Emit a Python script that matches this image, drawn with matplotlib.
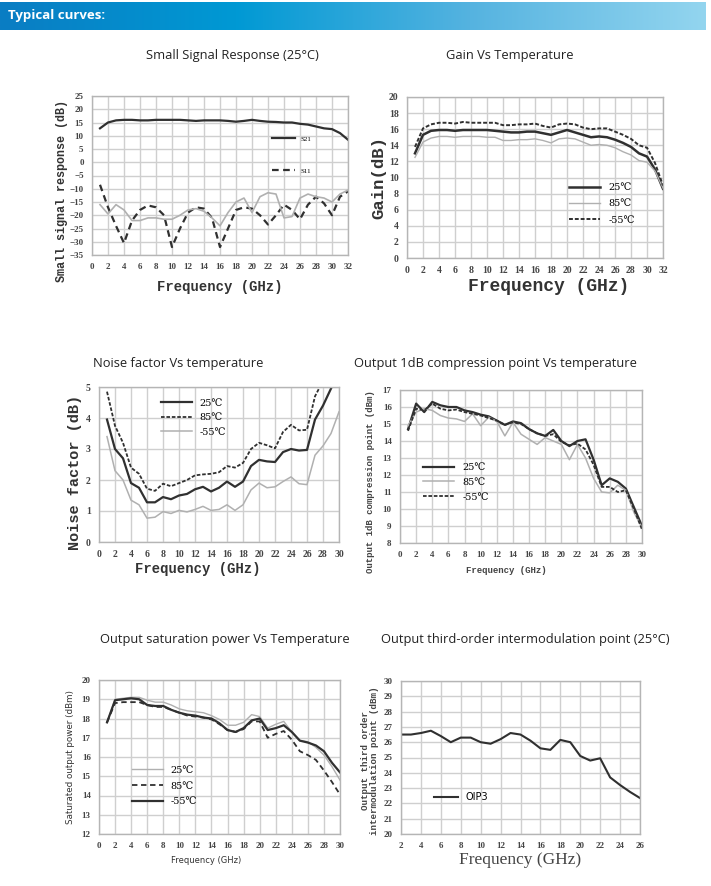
import numpy as np
import matplotlib
matplotlib.use("Agg")
import matplotlib.pyplot as plt
from matplotlib.colors import LinearSegmentedColormap

W, H = 711, 886

# ---- datos ----
f_ss = np.arange(1, 33)
s21 = [12.8, 15.0, 15.8, 16.0, 16.0, 15.8, 15.8, 16.0, 16.0, 16.0, 16.0, 15.8, 15.6, 15.8, 15.8, 15.8,
       15.6, 15.3, 15.6, 16.0, 15.6, 15.3, 15.2, 15.0, 15.0, 14.5, 14.2, 13.5, 12.8, 12.5, 11.0, 8.5]
s11 = [-8.5, -17.0, -24.0, -30.5, -22.0, -18.0, -16.3, -17.0, -20.0, -32.0, -25.0, -19.0, -17.0, -17.5, -21.0, -32.0,
       -25.0, -18.0, -17.0, -17.5, -20.0, -23.5, -20.0, -16.0, -18.0, -21.5, -16.0, -13.0, -15.5, -20.0, -13.0, -11.0]
s22 = [-16.0, -19.5, -16.0, -18.0, -22.0, -22.0, -21.0, -21.0, -21.5, -21.5, -20.0, -18.0, -17.5, -18.5, -21.0, -24.0,
       -19.0, -15.0, -13.5, -19.0, -13.0, -11.5, -12.0, -21.0, -20.5, -13.5, -12.0, -13.0, -13.5, -15.0, -12.0, -10.5]

f_gain = np.arange(1, 33)
gain_25 = [13.0, 15.3, 15.8, 15.9, 15.9, 15.8, 15.9, 15.9, 15.9, 15.9, 15.8, 15.7, 15.6, 15.6, 15.7, 15.7,
           15.5, 15.3, 15.6, 15.9, 15.6, 15.3, 15.0, 15.1, 15.0, 14.7, 14.3, 13.8, 13.0, 12.6, 11.0, 8.6]
gain_85 = [12.5, 14.4, 14.9, 15.1, 15.1, 15.0, 15.1, 15.1, 15.1, 15.0, 15.0, 14.6, 14.6, 14.7, 14.7, 14.8,
           14.6, 14.3, 14.8, 14.9, 14.8, 14.4, 14.0, 14.1, 14.0, 13.7, 13.2, 12.8, 12.1, 11.9, 10.8, 8.7]
gain_m55 = [13.8, 16.1, 16.6, 16.8, 16.8, 16.7, 16.9, 16.8, 16.8, 16.8, 16.8, 16.5, 16.5, 16.6, 16.6, 16.7,
            16.4, 16.2, 16.6, 16.7, 16.6, 16.2, 16.0, 16.1, 16.1, 15.7, 15.3, 14.8, 14.0, 13.7, 11.8, 9.0]

f_nf = np.arange(1, 31)
nf_25 = [3.95, 3.0, 2.7, 1.9, 1.75, 1.28, 1.28, 1.45, 1.38, 1.5, 1.55, 1.7, 1.78, 1.63, 1.75, 1.95,
         1.78, 1.95, 2.45, 2.65, 2.6, 2.58, 2.9, 3.0, 2.95, 2.97, 3.95, 4.4, 4.95, 5.5]
nf_85 = [4.85, 3.75, 3.2, 2.4, 2.2, 1.72, 1.65, 1.88, 1.8, 1.9, 2.0, 2.15, 2.18, 2.2, 2.25, 2.45,
         2.4, 2.55, 3.0, 3.2, 3.12, 3.02, 3.55, 3.78, 3.6, 3.62, 4.7, 5.2, 5.6, 6.0]
nf_m55 = [3.4, 2.3, 2.0, 1.35, 1.2, 0.77, 0.8, 0.98, 0.92, 1.02, 0.97, 1.05, 1.15, 1.02, 1.05, 1.2,
          1.02, 1.2, 1.68, 1.9, 1.75, 1.78, 1.95, 2.1, 1.88, 1.85, 2.8, 3.1, 3.5, 4.2]

f_p1 = np.arange(1, 31)
p1_25 = [14.7, 16.2, 15.7, 16.3, 16.1, 16.0, 16.0, 15.8, 15.7, 15.55, 15.45, 15.2, 14.95, 15.15, 15.05, 14.7,
         14.45, 14.3, 14.65, 14.0, 13.7, 14.0, 14.1, 12.9, 11.4, 11.8, 11.6, 11.2, 10.1, 9.0]
p1_85 = [14.9, 15.7, 15.9, 15.8, 15.5, 15.35, 15.3, 15.15, 15.6, 14.9, 15.4, 15.15, 14.3, 15.1, 14.4, 14.1,
         13.8, 14.2, 14.0, 13.8, 12.9, 13.8, 13.0, 11.8, 11.0, 10.95, 11.4, 11.1, 9.8, 8.9]
p1_m55 = [14.6, 15.9, 15.8, 16.2, 15.9, 15.8, 15.85, 15.7, 15.6, 15.5, 15.35, 15.2, 14.95, 15.1, 15.0, 14.7,
          14.45, 14.3, 14.4, 13.95, 13.75, 13.85, 13.5, 12.6, 11.3, 11.3, 11.0, 11.1, 10.0, 8.8]

f_ps = np.arange(1, 31)
ps_25 = [17.8, 19.0, 19.05, 19.1, 19.1, 18.95, 18.85, 18.85, 18.7, 18.5, 18.4, 18.35, 18.3, 18.15, 17.95, 17.65,
         17.65, 17.8, 18.2, 18.1, 17.5, 17.7, 17.85, 17.3, 16.85, 16.8, 16.5, 16.1, 15.5, 14.8]
ps_85 = [17.8, 18.8, 18.85, 18.85, 18.85, 18.7, 18.6, 18.6, 18.45, 18.3, 18.15, 18.1, 18.05, 17.95, 17.7, 17.4,
         17.3, 17.45, 17.85, 17.85, 17.0, 17.2, 17.35, 16.9, 16.3, 16.1, 15.85, 15.3, 14.7, 14.05]
ps_m55 = [17.8, 18.95, 19.0, 19.05, 19.0, 18.7, 18.65, 18.65, 18.45, 18.3, 18.2, 18.15, 18.05, 18.0, 17.75, 17.4,
          17.3, 17.5, 17.9, 18.0, 17.4, 17.5, 17.65, 17.3, 16.85, 16.75, 16.6, 16.3, 15.7, 15.2]

f_ip3 = np.arange(2, 27)
oip3 = [26.5, 26.5, 26.6, 26.75, 26.4, 26.0, 26.3, 26.3, 26.0, 25.9, 26.2, 26.6, 26.5, 26.1, 25.6, 25.5,
        26.15, 26.0, 25.1, 24.8, 24.95, 23.7, 23.2, 22.75, 22.35]

DARK = '#303030'
GRAY = '#b0b0b0'
SERIF = ['Liberation Serif', 'DejaVu Serif']
MONO = ['Liberation Mono', 'DejaVu Sans Mono']
LEG = ['DejaVu Serif', 'Noto Sans CJK SC']


def px_axes(fig, l, r, t, b):
    return fig.add_axes([l / W, 1 - b / H, (r - l) / W, (b - t) / H])


def style(ax, xlim, xticks, ylim, yticks, tick_size=6.5):
    ax.set_xlim(*xlim)
    ax.set_ylim(*ylim)
    ax.set_xticks(xticks)
    ax.set_yticks(yticks)
    ax.grid(True, color='#cfcfcf', linewidth=1.0)
    ax.set_axisbelow(True)
    for s in ax.spines.values():
        s.set_color('#b5b5b5')
        s.set_linewidth(1.0)
    ax.tick_params(length=0, pad=6, colors='#444444')
    for lab in ax.get_xticklabels() + ax.get_yticklabels():
        lab.set_fontfamily(SERIF)
        lab.set_fontsize(tick_size)
        lab.set_fontweight('bold')


def title(x, y, txt):
    fig.text(x / W, 1 - y / H, txt, ha='center', va='center', fontsize=9.3,
             family=['Open Sans', 'DejaVu Sans'], color='#222222')


fig = plt.figure(figsize=(W / 100, H / 100), dpi=100)

# cabecera con degradado
hdr = fig.add_axes([0, 1 - 30 / H, 706 / W, 28 / H])
cmap = LinearSegmentedColormap.from_list('hdr', ['#0A7DC3', '#0099D4', '#55B3E0', '#93D5EF'])
hdr.imshow(np.linspace(0, 1, 256).reshape(1, -1), aspect='auto', cmap=cmap, extent=[0, 1, 0, 1])
hdr.axis('off')
hdr.text(0.012, 0.5, 'Typical curves:', color='white', fontsize=9.5, fontweight='bold',
         family=['Open Sans', 'DejaVu Sans'], va='center', ha='left')

# 1. Small signal response
title(232, 55, 'Small Signal Response (25°C)')
ax1 = px_axes(fig, 92, 348, 96, 255)
ax1.plot(f_ss, s21, color=DARK, lw=1.6, label='S21')
ax1.plot(f_ss, s11, color=DARK, lw=1.6, ls=(0, (3, 2)), label='S11')
ax1.plot(f_ss, s22, color=GRAY, lw=1.2)
style(ax1, (0, 32), range(0, 33, 2), (-35, 25), range(-35, 26, 5))
ax1.set_xlabel('Frequency (GHz)', family=MONO, fontsize=10, fontweight='bold', color='#333333')
ax1.xaxis.set_label_coords(0.5, -0.16)
ax1.set_ylabel('Small signal response (dB)', family=MONO, fontsize=8.5, fontweight='bold', color='#333333')
ax1.yaxis.set_label_coords(-0.095, 0.4)
ax1.legend(loc='upper left', bbox_to_anchor=(0.68, 0.79), frameon=False,
           handlelength=3.2, labelspacing=3.8, prop={'family': SERIF, 'size': 5})

# 2. Gain
title(510, 55, 'Gain Vs Temperature')
ax2 = px_axes(fig, 407, 663, 97, 258)
ax2.plot(f_gain, gain_25, color=DARK, lw=1.8, label='25℃')
ax2.plot(f_gain, gain_85, color=GRAY, lw=1.0, label='85℃')
ax2.plot(f_gain, gain_m55, color=DARK, lw=1.4, ls=(0, (2, 1)), label='-55℃')
style(ax2, (0, 32), range(0, 33, 2), (0, 20), range(0, 21, 2), tick_size=7)
ax2.set_xlabel('Frequency (GHz)', family=MONO, fontsize=13, fontweight='bold', color='#333333')
ax2.xaxis.set_label_coords(0.555, -0.125)
ax2.set_ylabel('Gain(dB)', family=MONO, fontsize=12.5, fontweight='bold', color='#333333')
ax2.yaxis.set_label_coords(-0.082, 0.5)
ax2.legend(loc='upper left', bbox_to_anchor=(0.6, 0.52), frameon=False, handlelength=3.2,
           labelspacing=0.75, prop={'family': LEG, 'size': 7})

# 3. Noise factor
title(178, 363, 'Noise factor Vs temperature')
ax3 = px_axes(fig, 99, 339, 387, 542)
ax3.plot(f_nf, nf_25, color=DARK, lw=1.6, label='25℃')
ax3.plot(f_nf, nf_85, color=DARK, lw=1.3, ls=(0, (2, 1)), label='85℃')
ax3.plot(f_nf, nf_m55, color=GRAY, lw=1.1, label='-55℃')
style(ax3, (0, 30), range(0, 31, 2), (0, 5), range(0, 6), tick_size=7)
ax3.set_xlabel('Frequency (GHz)', family=MONO, fontsize=10, fontweight='bold', color='#333333')
ax3.xaxis.set_label_coords(0.41, -0.13)
ax3.set_ylabel('Noise factor (dB)', family=MONO, fontsize=11, fontweight='bold', color='#333333')
ax3.yaxis.set_label_coords(-0.07, 0.45)
ax3.legend(loc='upper left', bbox_to_anchor=(0.22, 0.98), frameon=False, handlelength=3.2,
           labelspacing=0.55, prop={'family': LEG, 'size': 7})

# 4. P1dB
title(495, 363, 'Output 1dB compression point Vs temperature')
ax4 = px_axes(fig, 400, 642, 390, 543)
ax4.plot(f_p1, p1_25, color=DARK, lw=1.6, label='25℃')
ax4.plot(f_p1, p1_85, color=GRAY, lw=1.1, label='85℃')
ax4.plot(f_p1, p1_m55, color=DARK, lw=1.3, ls=(0, (2, 1)), label='-55℃')
style(ax4, (0, 30), range(0, 31, 2), (8, 17), range(8, 18))
ax4.set_xlabel('Frequency (GHz)', family=MONO, fontsize=6.5, fontweight='bold', color='#444444')
ax4.xaxis.set_label_coords(0.44, -0.15)
ax4.set_ylabel('Output 1dB compression point (dBm)', family=MONO, fontsize=6.5, fontweight='bold',
               color='#444444')
ax4.yaxis.set_label_coords(-0.105, 0.4)
ax4.legend(loc='upper left', bbox_to_anchor=(0.06, 0.58), frameon=False, handlelength=3.2,
           labelspacing=0.6, prop={'family': LEG, 'size': 7})

# 5. Psat
title(225, 640, 'Output saturation power Vs Temperature')
ax5 = px_axes(fig, 99, 340, 680, 834)
ax5.plot(f_ps, ps_25, color=GRAY, lw=1.0, label='25℃')
ax5.plot(f_ps, ps_85, color=DARK, lw=1.3, ls=(0, (3, 2)), label='85℃')
ax5.plot(f_ps, ps_m55, color=DARK, lw=1.6, label='-55℃')
style(ax5, (0, 30), range(0, 31, 2), (12, 20), range(12, 21))
ax5.set_xlabel('Frequency (GHz)', family=['DejaVu Sans'], fontsize=6, color='#333333')
ax5.xaxis.set_label_coords(0.445, -0.14)
ax5.set_ylabel('Saturated output power (dBm)', family=['DejaVu Sans'], fontsize=6.3, color='#333333')
ax5.yaxis.set_label_coords(-0.1, 0.5)
ax5.legend(loc='upper left', bbox_to_anchor=(0.1, 0.5), frameon=False, handlelength=3.2,
           labelspacing=0.7, prop={'family': LEG, 'size': 7})

# 6. OIP3
title(525, 640, 'Output third-order intermodulation point (25°C)')
ax6 = px_axes(fig, 401, 640, 681, 834)
ax6.plot(f_ip3, oip3, color=DARK, lw=1.5, label='OIP3')
style(ax6, (2, 26), range(2, 27, 2), (20, 30), range(20, 31))
ax6.set_xlabel('Frequency (GHz)', family=SERIF, fontsize=12.5, color='#444444')
ax6.xaxis.set_label_coords(0.5, -0.12)
ax6.set_ylabel('Output third order\nintermodulation point (dBm)', family=MONO, fontsize=6.6,
               fontweight='bold', color='#444444', linespacing=1.05)
ax6.yaxis.set_label_coords(-0.09, 0.48)
ax6.legend(loc='upper left', bbox_to_anchor=(0.1, 0.33), frameon=False, handlelength=2.5,
           prop={'family': ['DejaVu Sans'], 'size': 7})

fig.savefig('out.png', dpi=100)
